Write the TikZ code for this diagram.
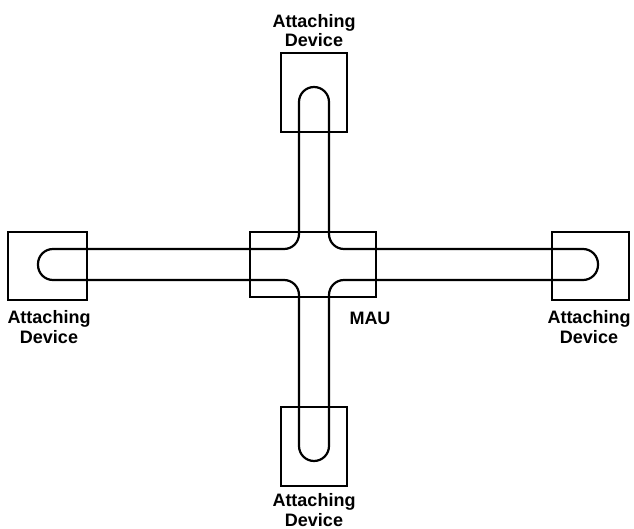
\documentclass[tikz,border=0pt]{standalone}
\usepackage{fontspec}
\setmainfont{Liberation Sans}
\begin{document}
\begin{tikzpicture}[x=1pt,y=-1pt,
  box/.style={draw,line width=2.2pt,minimum width=#1,inner sep=0pt},
  lbl/.style={font=\bfseries\fontsize{18}{19.5}\selectfont,align=center,inner sep=0pt},
  cable/.style={draw,line width=2.2pt,rounded corners=15pt}]
\useasboundingbox (0,0) rectangle (634,529);
% boxes
\node[box=126pt,minimum height=65pt] (mau) at (313,264.5) {};
\node[box=66pt,minimum height=79pt] (topd) at (314,92.5) {};
\node[box=79pt,minimum height=68pt] (leftd) at (47.5,266) {};
\node[box=77pt,minimum height=68pt] (rightd) at (590.5,266) {};
\node[box=66pt,minimum height=79pt] (botd) at (314,446.5) {};
% cable
\draw[cable] (314,87) -- (329,87) -- (329,249) -- (598,249) -- (598,280) -- (329,280)
  -- (329,461) -- (299,461) -- (299,280) -- (38,280) -- (38,249) -- (299,249)
  -- (299,87) -- (314,87);
% labels
\node[lbl,anchor=base] (ltop) at (314,47) {Attaching\\Device};
\node[lbl,anchor=base] (lleft) at (49,343) {Attaching\\Device};
\node[lbl,anchor=base] (lright) at (589,343) {Attaching\\Device};
\node[lbl,anchor=base] (lbot) at (314,526) {Attaching\\Device};
\node[lbl,anchor=base] (lmau) at (370,324) {MAU};
\end{tikzpicture}
\end{document}
